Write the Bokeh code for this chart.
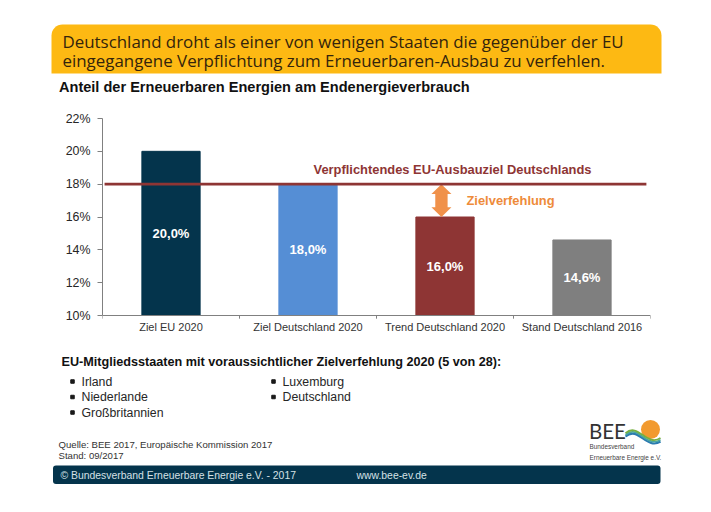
from bokeh.core.properties import value
from bokeh.embed import file_html
from bokeh.layouts import column
from bokeh.models import (BoxAnnotation, ColumnDataSource, FactorRange, FixedTicker, Label, Range1d, Span)
from bokeh.plotting import figure
from bokeh.resources import INLINE

categories = ["Ziel EU 2020", "Ziel Deutschland 2020", "Trend Deutschland 2020", "Stand Deutschland 2016"]
values = [20.0, 18.0, 16.0, 14.6]
value_labels = ["20,0%", "18,0%", "16,0%", "14,6%"]
bar_colors = ["#04344c", "#558ed5", "#8e3534", "#7f7f7f"]
y_ticks = [10, 12, 14, 16, 18, 20, 22]
y_tick_labels = {t: f"{t}%" for t in y_ticks}
target = 18.0
title_lines = ["Deutschland droht als einer von wenigen Staaten die gegenüber der EU",
               "eingegangene Verpflichtung zum Erneuerbaren-Ausbau zu verfehlen."]
chart_title = "Anteil der Erneuerbaren Energien am Endenergieverbrauch"
list_title = "EU-Mitgliedsstaaten mit voraussichtlicher Zielverfehlung 2020 (5 von 28):"
list_col1 = ["Irland", "Niederlande", "Großbritannien"]
list_col2 = ["Luxemburg", "Deutschland"]

W = 695
TOP_H, CHART_H, BOTTOM_H = 100, 240, 156
SANS = "Liberation Sans"


def page_fig(height, y0):
    """Figure whose data coordinates are page pixels."""
    f = figure(width=W, height=height, output_backend="svg", toolbar_location=None,
               x_range=Range1d(0, W), y_range=Range1d(y0 + height, y0), x_axis_location=None,
               y_axis_location=None, min_border=0, outline_line_color=None, frame_align=False)
    f.grid.visible = False
    return f


def text(f, px, py, s, size, color="#1a1a1a", style="normal", font=SANS, align="left"):
    f.add_layout(Label(x=px, y=py, text=s, text_font=font, text_font_size=f"{size}px", text_color=color,
                       text_font_style=style, text_align=align, text_baseline="middle"))


# ---- header
top = page_fig(TOP_H, 0)
top.add_layout(BoxAnnotation(left=51, right=661, top=24, bottom=73, fill_color="#fdb913", fill_alpha=1,
                             line_color=None, border_radius=dict(top_left=11, top_right=11, bottom_left=0, bottom_right=0)))
text(top, 62, 41, title_lines[0], 16.9, "#33240c", font="Open Sans")
text(top, 62, 60, title_lines[1], 16.9, "#33240c", font="Open Sans")
text(top, 58.5, 86, chart_title, 14.55, "#111111", "bold")

# ---- chart
L, FR_TOP, FR_BOT = 102, 18, 21
PX_PER_UNIT = (CHART_H - FR_TOP - FR_BOT - 4) / 12
y_start = 10 - 4 / PX_PER_UNIT
chart = figure(width=W, height=CHART_H, output_backend="svg", toolbar_location=None,
               x_range=FactorRange(factors=categories, factor_padding=0, range_padding=0),
               y_range=Range1d(y_start, 22), min_border_left=L, min_border_right=W - 650,
               min_border_top=FR_TOP, min_border_bottom=FR_BOT, outline_line_color=None, frame_align=False)
chart.grid.visible = False
src = ColumnDataSource(dict(x=categories, top=values, color=bar_colors, lab=value_labels,
                            mid=[(10 + v) / 2 for v in values]))
chart.vbar(x="x", top="top", bottom=10, width=0.425, color="color", source=src)
chart.add_layout(Span(location=10, dimension="width", line_color="#808080", line_width=1))
bound_x = [(c, -0.5) for c in categories] + [(categories[-1], 0.5)]
chart.segment(x0=bound_x, x1=bound_x, y0=[10] * 5, y1=[y_start + 0.05] * 5, line_color="#808080", line_width=1)

# double arrow between the target and the trend bar
arrow_cat, arrow_off = categories[2], -0.026
head_w, shaft_w, head_h = 0.073, 0.045, 0.6
arrow_top, arrow_bot = target, values[2]
arrow_offsets = [0, head_w, shaft_w, shaft_w, head_w, 0, -head_w, -shaft_w, -shaft_w, -head_w]
arrow_levels = [arrow_top, arrow_top - head_h, arrow_top - head_h, arrow_bot + head_h, arrow_bot + head_h,
                arrow_bot, arrow_bot + head_h, arrow_bot + head_h, arrow_top - head_h, arrow_top - head_h]
chart.patch(x=[(arrow_cat, arrow_off + o) for o in arrow_offsets], y=arrow_levels, fill_color="#f0914a", line_color=None)

chart.line(x=[(categories[0], -0.485), (categories[3], 0.47)], y=[target, target],
           line_color="#8e3534", line_width=2.6)
chart.text(x="x", y="mid", text="lab", source=src, text_color="white", text_align="center",
           text_baseline="middle", text_font=value(SANS), text_font_size="13px", text_font_style="bold")

ax = chart.yaxis[0]
ax.ticker = FixedTicker(ticks=y_ticks)
ax.bounds = (10, 22)
ax.major_label_overrides = y_tick_labels
ax.major_label_text_font = SANS
ax.major_label_text_font_size = "12.4px"
ax.major_label_text_color = "#262626"
ax.major_label_standoff = 7
ax.axis_line_color = "#808080"
ax.major_tick_line_color = "#808080"
ax.major_tick_out = 5
ax.major_tick_in = 0
ax.minor_tick_line_color = None
xa = chart.xaxis[0]
xa.major_label_text_font = SANS
xa.major_label_text_font_size = "11px"
xa.major_label_text_color = "#333333"
xa.axis_line_color = None
xa.major_tick_line_color = None
xa.major_tick_out = 0
xa.major_tick_in = 0
xa.major_label_standoff = 1


def ctext(px, py, s, size, color, align="left"):
    h = CHART_H - FR_BOT - FR_TOP
    chart.add_layout(Label(x=px - L, y=(TOP_H + FR_TOP + h) - py, x_units="screen", y_units="screen", text=s,
                           text_font=SANS, text_font_size=f"{size}px", text_color=color, text_font_style="bold",
                           text_align=align, text_baseline="middle"))


ctext(452, 169, "Verpflichtendes EU-Ausbauziel Deutschlands", 12.9, "#8e3534", "center")
ctext(466, 200, "Zielverfehlung", 12.9, "#ee8b3a")

# ---- lower text block
bot = page_fig(BOTTOM_H, TOP_H + CHART_H)
text(bot, 61, 361, list_title, 12.65, "#111111", "bold")
rows = [381, 396.5, 412]
for col_x, items in [(81, list_col1), (282, list_col2)]:
    bot.scatter(x=[col_x - 9] * len(items), y=rows[:len(items)], marker="square", size=3.5, color="#1a1a1a")
    for y, s in zip(rows, items):
        text(bot, col_x, y, s, 12.3, "#262626")
text(bot, 58, 444, "Quelle: BEE 2017, Europäische Kommission 2017", 9.6, "#333333")
text(bot, 58, 454.5, "Stand: 09/2017", 9.6, "#333333")
bot.add_layout(BoxAnnotation(left=52.5, right=660, top=465, bottom=483.5, fill_color="#04344c", fill_alpha=1,
                             line_color=None, border_radius=3))
text(bot, 60, 474.5, "© Bundesverband Erneuerbare Energie e.V. - 2017", 10.4, "#d5e0e6")
text(bot, 356, 474.5, "www.bee-ev.de", 10.4, "#d5e0e6")

# ---- logo
text(bot, 588.5, 430, "BEE", 20.5, "#333333", font="Lato")
bot.circle(x=[650], y=[429], radius=9.5, fill_color="#f29a2e", line_color=None)
for color, y0, width in [("#2b7bb0", 2, 2.2), ("#4aa5a0", 0.2, 1.8), ("#77b041", -1.4, 1.8)]:
    bot.bezier(x0=[625], y0=[434 + y0], x1=[660], y1=[436 + y0 + 3], cx0=[638], cy0=[423 + y0], cx1=[646], cy1=[448 + y0],
               line_color=color, line_width=width)
text(bot, 589, 446, "Bundesverband", 6.4, "#444444")
text(bot, 589, 457, "Erneuerbare Energie e.V.", 6.4, "#444444")

open("out.html", "w").write(file_html(column(top, chart, bot, spacing=0), INLINE))
